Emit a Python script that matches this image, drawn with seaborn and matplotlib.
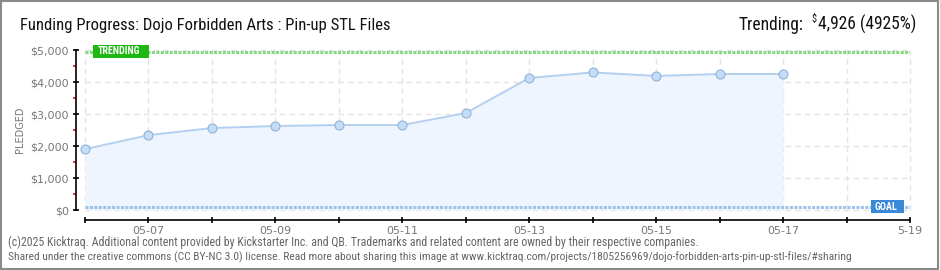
import matplotlib
matplotlib.use("Agg")
import matplotlib.pyplot as plt
import seaborn as sns
import pandas as pd
from matplotlib.patches import Rectangle

# ---- data ----
dates = ["05-06", "05-07", "05-08", "05-09", "05-10", "05-11",
         "05-12", "05-13", "05-14", "05-15", "05-16", "05-17"]
pledged = [1900, 2340, 2560, 2625, 2655, 2655, 3030, 4125, 4300, 4190, 4250, 4250]
goal = 100
trending = 4926
tick_days = [7, 9, 11, 13, 15, 17, 19]
tick_labels = ["05-07", "05-09", "05-11", "05-13", "05-15", "05-17", "5-19"]
y_ticks = [0, 1000, 2000, 3000, 4000, 5000]
y_labels = ["$0", "$1,000", "$2,000", "$3,000", "$4,000", "$5,000"]

df = pd.DataFrame({"day": [int(d[3:]) for d in dates], "pledged": pledged})

sns.set_style("white")
plt.rcParams["font.family"] = ["DejaVu Sans"]
NARROW = ["Roboto Condensed", "Roboto", "DejaVu Sans"]

W, H = 940, 270
fig = plt.figure(figsize=(W / 100, H / 100), dpi=100)
fig.patch.set_facecolor("white")
fig.patches.append(Rectangle((0.001, 0.002), 0.997, 0.994, transform=fig.transFigure,
                             fill=False, edgecolor="#8a8a8a", linewidth=1.5))

ax = fig.add_axes([85 / W, (H - 210) / H, 825 / W, 160 / H])
ax.set_xlim(6, 19)
ax.set_ylim(0, 5000)

# grid
for d in range(6, 20):
    ax.axvline(d, color="#e4e4e4", lw=1, ls=(0, (4, 3)), zorder=0)
for y in y_ticks:
    ax.axhline(y, color="#e4e4e4", lw=1, ls=(0, (4, 3)), zorder=0)

# area + line
ax.fill_between(df["day"], 0, df["pledged"], color="#eef5fe", zorder=1, lw=0)
sns.lineplot(data=df, x="day", y="pledged", ax=ax, color="#b3d0f0", lw=1.4,
             marker="o", markersize=6.5, markerfacecolor="#c3dcf7",
             markeredgecolor="#93b3d6", markeredgewidth=0.8, zorder=3)
for l in ax.lines:
    l.set_clip_on(False)

# trending & goal lines
ax.axhline(trending, color="#86d882", lw=2.2, ls=(0, (1, 0.45)), zorder=2)
ax.axhline(goal, color="#9fc4ea", lw=2.2, ls=(0, (1, 0.45)), zorder=2)

# labels on lines (pixel placement)
fig.patches.append(Rectangle((93 / W, 1 - 57.5 / H), 56 / W, 13 / H, transform=fig.transFigure,
                             fc="#1eb814", ec="none", zorder=5))
fig.text(119.5 / W, 1 - 51.3 / H, "TRENDING", color="white", fontsize=7.2,
         ha="center", va="center", zorder=6, family=NARROW, fontweight="bold")
fig.patches.append(Rectangle((871 / W, 1 - 213 / H), 33 / W, 13 / H, transform=fig.transFigure,
                             fc="#3a88d8", ec="none", zorder=5))
fig.text(886 / W, 1 - 206.6 / H, "GOAL", color="white", fontsize=7.2,
         ha="center", va="center", zorder=6, family=NARROW, fontweight="bold")

# spines & ticks
for s in ["top", "right"]:
    ax.spines[s].set_visible(False)
ax.spines["left"].set_position(("outward", 9 * 0.72))
ax.spines["bottom"].set_position(("outward", 10 * 0.72))
for s in ["left", "bottom"]:
    ax.spines[s].set_color("black")
    ax.spines[s].set_linewidth(1.2)

ax.set_yticks(y_ticks)
ax.set_yticklabels(y_labels)
ax.set_yticks([500, 1500, 2500, 3500, 4500], minor=True)
ax.tick_params(axis="y", which="major", left=True, direction="inout", length=4, width=1.2,
               color="black", labelsize=8, labelcolor="#777777", pad=3)
ax.tick_params(axis="y", which="minor", left=True, direction="out", length=2.2, width=1.2,
               color="#e01010")

ax.set_xticks(range(6, 20), minor=True)
ax.set_xticks(tick_days)
ax.set_xticklabels(tick_labels)
ax.tick_params(axis="x", which="both", bottom=True, direction="inout", length=5, width=1.2,
               color="black", labelsize=8, labelcolor="#777777", pad=1.5)

ax.set_xlabel("")
ax.set_ylabel("")
fig.text(20 / W, 1 - 130 / H, "PLEDGED", rotation=90, ha="center", va="center",
         fontsize=7, color="#777777")

fig.canvas.draw()
r = fig.canvas.get_renderer()


def fit(t, target):
    w = t.get_window_extent(r).width
    t.set_fontsize(t.get_fontsize() * target / w)


# title
t = fig.text(20 / W, 1 - 30 / H, "Funding Progress: Dojo Forbidden Arts : Pin-up STL Files",
             fontsize=12, color="#111111", ha="left", va="baseline", family=NARROW)
fit(t, 370)

# trending header (right aligned)
t3 = fig.text(916 / W, 1 - 30 / H, "4,926 (4925%)", fontsize=12, color="#111111",
              ha="right", va="baseline", family=NARROW)
fit(t3, 99)
x3 = t3.get_window_extent(r).x0
t2 = fig.text((x3 - 0.5) / W, 1 - 22 / H, "$", fontsize=7.5, color="#111111",
              ha="right", va="baseline", family=NARROW)
x2 = t2.get_window_extent(r).x0
t1 = fig.text((x2 - 8) / W, 1 - 30 / H, "Trending:", fontsize=t3.get_fontsize(),
              color="#111111", ha="right", va="baseline", family=NARROW)

# footer
f1 = fig.text(8 / W, 1 - 246 / H,
              "(c)2025 Kicktraq. Additional content provided by Kickstarter Inc. and QB. "
              "Trademarks and related content are owned by their respective companies.",
              fontsize=7.2, color="#666666", ha="left", va="baseline", family=NARROW)
f2 = fig.text(8 / W, 1 - 260 / H,
              "Shared under the creative commons (CC BY-NC 3.0) license. Read more about sharing "
              "this image at www.kicktraq.com/projects/1805256969/dojo-forbidden-arts-pin-up-stl-files/#sharing",
              fontsize=7.2, color="#666666", ha="left", va="baseline", family=NARROW)
fit(f2, 839)
fit(f1, 687)

fig.savefig("out.png", dpi=100)
